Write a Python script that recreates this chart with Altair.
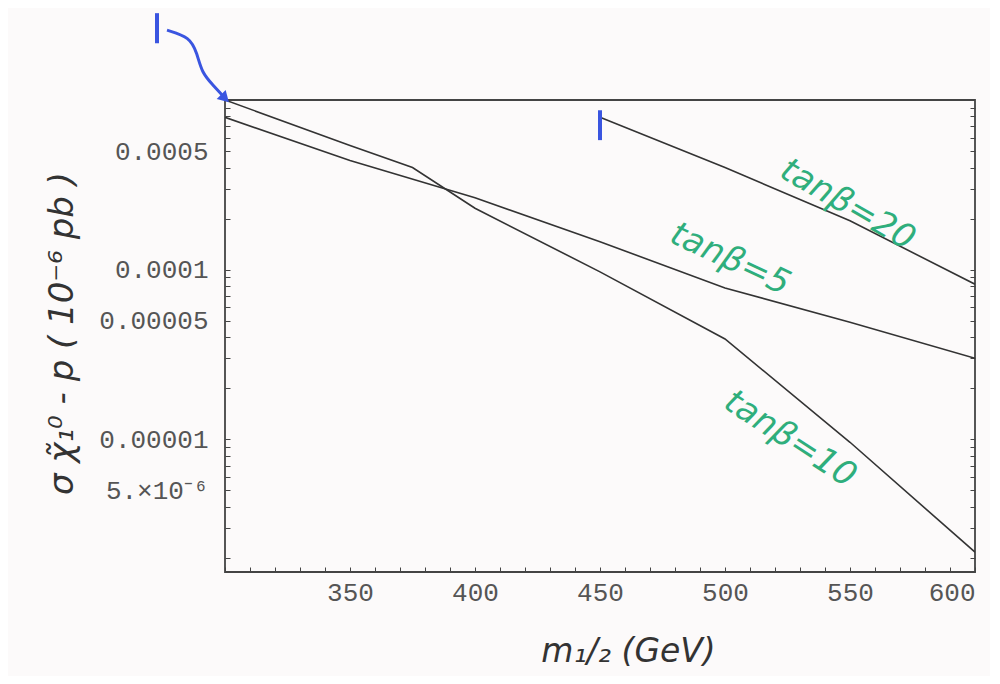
import altair as alt
import pandas as pd

# ---- data ----
m_tb5 = [300, 350, 400, 450, 500, 550, 600]
sigma_tb5 = [7.9e-4, 4.4e-4, 2.65e-4, 1.46e-4, 7.8e-5, 4.9e-5, 3.0e-5]

m_tb10 = [300, 350, 375, 400, 450, 500, 550, 600]
sigma_tb10 = [1.0e-3, 5.4e-4, 4.0e-4, 2.3e-4, 9.7e-5, 3.9e-5, 9.6e-6, 2.16e-6]

m_tb20 = [450, 500, 550, 600]
sigma_tb20 = [7.9e-4, 4.0e-4, 1.94e-4, 8.2e-5]

# handwritten labels
ann_text = ["tanβ=20", "tanβ=5", "tanβ=10"]
ann_m = [549, 502, 526]
ann_sigma = [2.41e-4, 1.15e-4, 1.0e-5]
ann_angle = [30, 25, 33]

# blue pen marks
squiggle_m = [276.8, 286.0, 288.8, 290.8, 295.2, 298.8]
squiggle_sigma = [2.58e-3, 2.35e-3, 1.89e-3, 1.44e-3, 1.225e-3, 1.07e-3]
bar_m = [272.8, 450]
bar_sigma = [2.16e-3, 5.8e-4]
bar_sigma2 = [3.25e-3, 8.7e-4]
head_m = [299.5]
head_sigma = [1.04e-3]

# axis ticks
y_major = [5e-4, 1e-4, 5e-5, 1e-5, 5e-6]
y_major_text = ["0.0005", "0.0001", "0.00005", "0.00001", "5.×10⁻⁶"]
y_ticks = [k * 10.0 ** e for e in (-6, -5, -4) for k in range(1, 10) if k * 10.0 ** e >= 1.65e-6]
x_ticks = list(range(300, 601, 10))

# ---- tables ----
rows = []
for name, ms, ss in (("tb5", m_tb5, sigma_tb5), ("tb10", m_tb10, sigma_tb10), ("tb20", m_tb20, sigma_tb20)):
    for m, s in zip(ms, ss):
        rows.append({"series": name, "m": m, "sigma": s})
df = pd.DataFrame(rows)
df_ann = pd.DataFrame({"m": ann_m, "sigma": ann_sigma, "label": ann_text, "angle": ann_angle})
df_sq = pd.DataFrame({"m": squiggle_m, "sigma": squiggle_sigma, "i": list(range(len(squiggle_m)))})
df_bar = pd.DataFrame({"m": bar_m, "sigma": bar_sigma, "sigma2": bar_sigma2})
df_head = pd.DataFrame({"m": head_m, "sigma": head_sigma})

label_expr = "".join(f"abs(datum.value/{v}-1)<1e-6 ? '{t}' : " for v, t in zip(y_major, y_major_text)) + "''"

xscale = alt.Scale(domain=[300, 600], nice=False, zero=False)
yscale = alt.Scale(type="log", domain=[1.65e-6, 1.0e-3], nice=False)

hand_font = "DejaVu Sans"
tick_font = "Liberation Mono"

x_axis = alt.Axis(
    values=x_ticks,
    labelExpr="datum.value % 50 == 0 && datum.value > 300 ? toString(datum.value) : ''",
    tickSize=5, offset=-5, domain=False, grid=False, labelPadding=7,
    labelFont=tick_font, labelFontSize=26, labelColor="#555", tickColor="#444",
    title="m₁/₂ (GeV)", titleX=403, titleY=84, titleAlign="center", titleBaseline="middle",
    titleFont=hand_font, titleFontSize=33, titleFontStyle="italic", titleFontWeight="normal",
    titleColor="#333",
)
left_axis = alt.Axis(
    values=y_ticks, labelExpr=label_expr,
    tickSize=5, offset=-5, domain=False, grid=False, labelPadding=17,
    labelFont=tick_font, labelFontSize=26, labelColor="#555", tickColor="#444",
    title="σ  χ̃₁⁰ - p   ( 10⁻⁶ pb )", titleX=-168, titleY=233, titleAngle=270,
    titleAlign="center", titleBaseline="middle",
    titleFont=hand_font, titleFontSize=34, titleFontStyle="italic", titleFontWeight="normal",
    titleColor="#333",
)
right_axis = alt.Axis(
    orient="right", values=y_ticks, labels=False, tickSize=5, offset=-5,
    domain=False, grid=False, title=None, tickColor="#444",
)

X = alt.X("m:Q", scale=xscale, axis=x_axis)

lines = alt.Chart(df).mark_line(color="#333", strokeWidth=1.6, clip=True).encode(
    x=X, y=alt.Y("sigma:Q", scale=yscale, axis=left_axis), detail="series:N"
)
right = alt.Chart(df).mark_line(opacity=0).encode(
    x=X, y=alt.Y("sigma:Q", scale=yscale, axis=right_axis), detail="series:N"
)
green = "#2fae7c"
texts = alt.Chart(df_ann).mark_text(
    color=green, font=hand_font, fontSize=34, fontStyle="italic", align="center", baseline="middle"
).encode(
    x=X, y=alt.Y("sigma:Q", scale=yscale, axis=None), text="label:N",
    angle=alt.Angle("angle:Q", scale=None),
)
blue = "#3a55e0"
squiggle = alt.Chart(df_sq).mark_line(color=blue, strokeWidth=3, clip=False, interpolate="basis").encode(
    x=X, y=alt.Y("sigma:Q", scale=yscale, axis=None), order="i:Q"
)
bars = alt.Chart(df_bar).mark_rule(color=blue, strokeWidth=4, clip=False).encode(
    x=X, y=alt.Y("sigma:Q", scale=yscale, axis=None), y2="sigma2:Q"
)
head = alt.Chart(df_head).mark_point(
    shape="triangle", angle=135, filled=True, size=160, color=blue, opacity=1, clip=False
).encode(x=X, y=alt.Y("sigma:Q", scale=yscale, axis=None))

chart = (
    alt.layer(lines, right, texts, squiggle, bars, head)
    .resolve_axis(y="independent")
    .properties(
        width=750, height=472,
        autosize=alt.AutoSizeParams(type="none"),
        padding={"left": 217, "top": 92, "right": 15, "bottom": 104},
        background="#fcfafa",
    )
    .configure_view(stroke="#444", strokeWidth=1.8)
)

chart.save("out.html", embed_options={"renderer": "svg", "actions": False})
